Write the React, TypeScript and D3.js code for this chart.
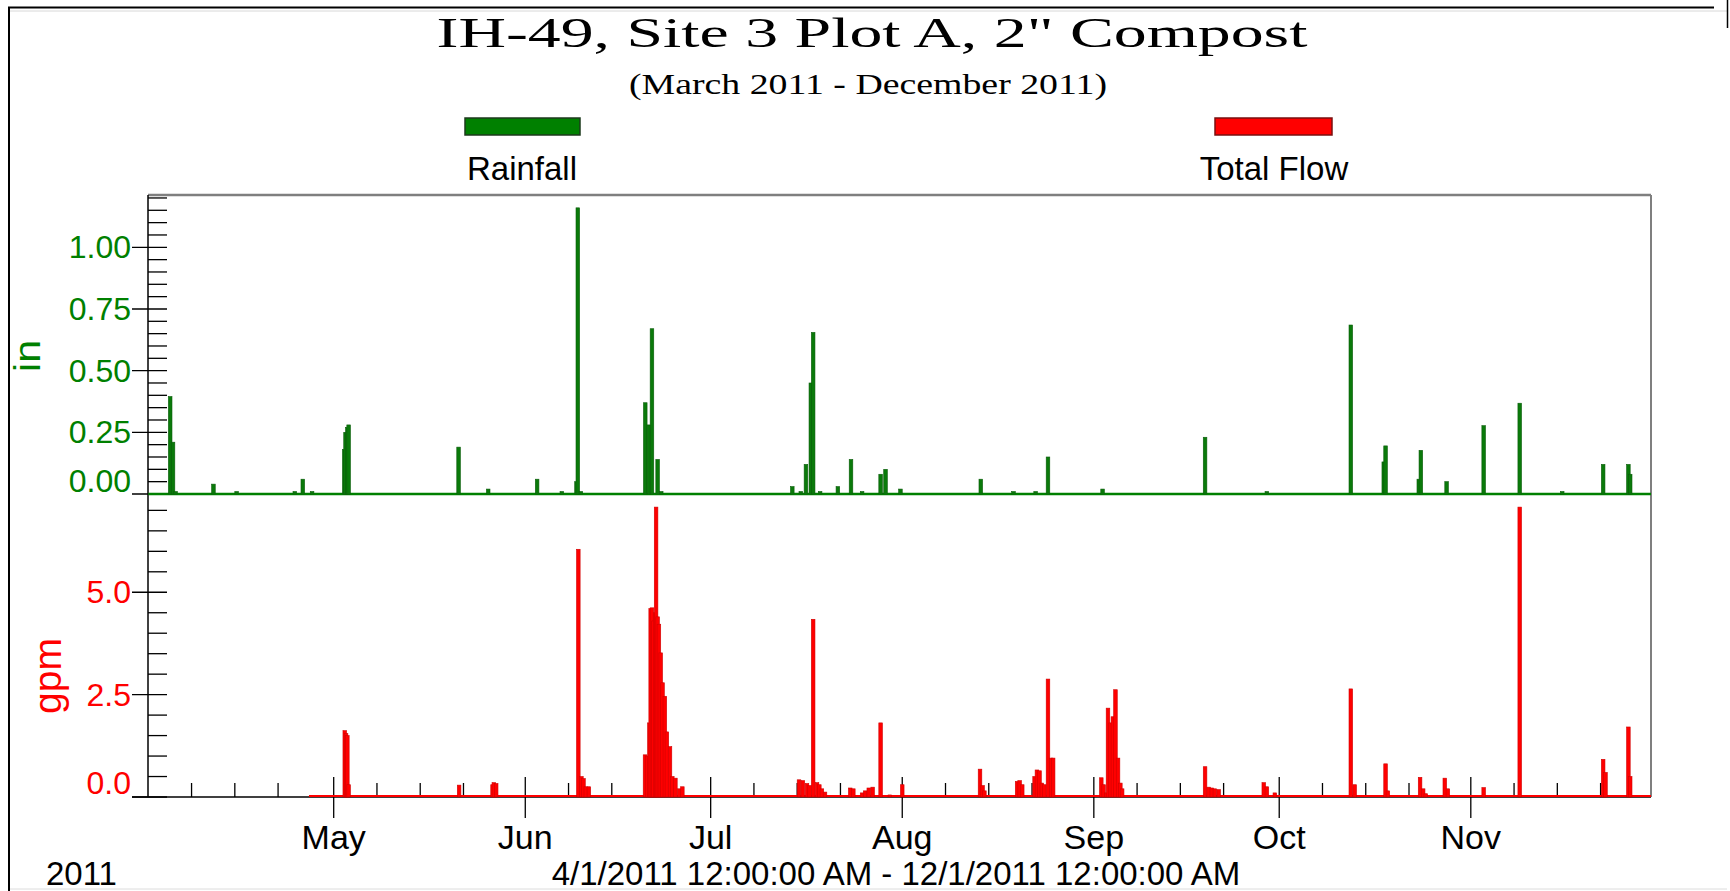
import React, { useEffect } from "react";
import * as d3 from "d3";

// ---------- DATA ----------
const rainDates = [
  "2011-04-04 13:00", "2011-04-05 00:00", "2011-04-05 10:00", "2011-04-11 13:00", "2011-04-15 07:00",
  "2011-04-24 17:00", "2011-04-26 00:00", "2011-04-27 12:00",
  "2011-05-02 17:00", "2011-05-02 22:00", "2011-05-03 05:00", "2011-05-03 10:00",
  "2011-05-21 05:00", "2011-05-26 00:00", "2011-06-02 22:00", "2011-06-06 22:00",
  "2011-06-09 07:00", "2011-06-09 12:00", "2011-06-10 00:00",
  "2011-06-20 10:00", "2011-06-21 00:00", "2011-06-21 12:00", "2011-06-22 10:00", "2011-06-23 00:00",
  "2011-07-14 05:00", "2011-07-15 14:00", "2011-07-16 10:00", "2011-07-17 05:00", "2011-07-17 14:00", "2011-07-18 17:00",
  "2011-07-21 14:00", "2011-07-23 17:00", "2011-07-25 12:00", "2011-07-28 12:00", "2011-07-29 07:00", "2011-07-31 17:00",
  "2011-08-13 17:00", "2011-08-19 00:00", "2011-08-22 14:00", "2011-08-24 14:00",
  "2011-09-02 10:00", "2011-09-19 00:00", "2011-09-29 00:00",
  "2011-10-12 14:00", "2011-10-17 22:00", "2011-10-18 05:00", "2011-10-23 14:00", "2011-10-23 22:00", "2011-10-28 02:00",
  "2011-11-03 02:00", "2011-11-08 22:00", "2011-11-15 19:00", "2011-11-22 10:00", "2011-11-26 12:00", "2011-11-26 19:00",
];
const rainValues = [
  0.395, 0.21, 0.01, 0.04, 0.01,
  0.01, 0.06, 0.01,
  0.18, 0.25, 0.27, 0.28,
  0.19, 0.02, 0.06, 0.01,
  0.05, 1.16, 0.01,
  0.37, 0.28, 0.67, 0.14, 0.01,
  0.03, 0.01, 0.12, 0.45, 0.655, 0.01,
  0.03, 0.14, 0.01, 0.08, 0.1, 0.02,
  0.06, 0.01, 0.01, 0.15,
  0.02, 0.23, 0.01,
  0.685, 0.13, 0.195, 0.06, 0.177, 0.05,
  0.277, 0.368, 0.01, 0.12, 0.12, 0.08,
];

const flowDates = [
  "2011-04-27 00:00",
  "2011-05-02 19:00", "2011-05-03 00:00", "2011-05-03 05:00", "2011-05-03 10:00",
  "2011-05-21 07:00", "2011-05-26 17:00", "2011-05-26 22:00", "2011-05-27 07:00",
  "2011-06-09 14:00", "2011-06-10 02:00", "2011-06-10 10:00", "2011-06-10 19:00", "2011-06-11 07:00",
  "2011-06-20 09:00", "2011-06-20 17:00", "2011-06-21 02:00", "2011-06-21 07:00", "2011-06-21 12:00",
  "2011-06-21 18:00", "2011-06-22 00:00", "2011-06-22 04:00", "2011-06-22 10:00", "2011-06-22 15:00",
  "2011-06-22 22:00", "2011-06-23 05:00", "2011-06-23 14:00", "2011-06-23 22:00", "2011-06-24 10:00",
  "2011-06-24 19:00", "2011-06-25 07:00", "2011-06-25 22:00", "2011-06-26 10:00",
  "2011-07-15 07:00", "2011-07-15 22:00", "2011-07-16 14:00", "2011-07-17 00:00", "2011-07-17 14:00",
  "2011-07-18 05:00", "2011-07-18 14:00", "2011-07-19 00:00", "2011-07-19 12:00",
  "2011-07-23 14:00", "2011-07-24 02:00", "2011-07-25 12:00", "2011-07-26 00:00", "2011-07-26 14:00",
  "2011-07-27 05:00", "2011-07-28 12:00", "2011-07-30 00:00", "2011-08-01 00:00",
  "2011-08-13 14:00", "2011-08-14 00:00", "2011-08-14 07:00",
  "2011-08-19 14:00", "2011-08-20 00:00", "2011-08-20 10:00",
  "2011-08-22 10:00", "2011-08-22 19:00", "2011-08-23 05:00", "2011-08-23 14:00", "2011-08-24 00:00",
  "2011-08-24 14:00", "2011-08-25 02:00", "2011-08-25 10:00",
  "2011-09-02 05:00", "2011-09-02 14:00", "2011-09-03 00:00", "2011-09-03 07:00", "2011-09-03 17:00",
  "2011-09-04 02:00", "2011-09-04 12:00", "2011-09-04 22:00", "2011-09-05 07:00", "2011-09-05 14:00",
  "2011-09-19 00:00", "2011-09-19 14:00", "2011-09-20 02:00", "2011-09-20 14:00", "2011-09-21 05:00",
  "2011-09-28 12:00", "2011-09-29 00:00", "2011-09-30 07:00",
  "2011-10-12 14:00", "2011-10-13 05:00", "2011-10-18 05:00", "2011-10-18 14:00",
  "2011-10-23 19:00", "2011-10-24 07:00", "2011-10-24 17:00", "2011-10-27 19:00", "2011-10-28 07:00",
  "2011-11-03 02:00", "2011-11-08 22:00", "2011-11-22 10:00", "2011-11-22 19:00",
  "2011-11-26 12:00", "2011-11-26 19:00",
  "2011-12-01 00:00",
];
const flowValues = [
  0,
  1.62, 1.55, 1.5, 0.3,
  0.29, 0.3, 0.35, 0.33,
  6.05, 0.5, 0.45, 0.25, 0.25,
  1.03, 1.0, 1.81, 4.6, 4.62,
  4.3, 4.5, 7.08, 4.4, 4.22,
  3.52, 2.79, 2.46, 1.59, 1.23,
  0.5, 0.46, 0.2, 0.25,
  0.42, 0.4, 0.33, 0.28, 4.34,
  0.35, 0.3, 0.2, 0.12,
  0.22, 0.2, 0.1, 0.15, 0.22,
  0.24, 1.81, 0.05, 0.3,
  0.68, 0.28, 0.15,
  0.38, 0.4, 0.3,
  0.5, 0.66, 0.64, 0.34, 0.3,
  2.88, 0.95, 0.95,
  0.47, 0.3, 0.1, 2.17, 1.81,
  1.96, 2.62, 0.95, 0.34, 0.2,
  0.74, 0.24, 0.22, 0.2, 0.18,
  0.35, 0.25, 0.1,
  2.64, 0.3, 0.81, 0.15,
  0.48, 0.2, 0.08, 0.46, 0.2,
  0.23, 7.08, 0.92, 0.6,
  1.71, 0.5,
  0,
];

const monthTickDates = ["2011-05-01 00:00", "2011-06-01 00:00", "2011-07-01 00:00", "2011-08-01 00:00", "2011-09-01 00:00", "2011-10-01 00:00", "2011-11-01 00:00"];
const monthLabels = ["May", "Jun", "Jul", "Aug", "Sep", "Oct", "Nov"];
const weekTickDays = [8, 15, 22];
const rainTicks = [0, 0.25, 0.5, 0.75, 1.0];
const rainTickLabels = ["0.00", "0.25", "0.50", "0.75", "1.00"];
const flowTicks = [0, 2.5, 5.0];
const flowTickLabels = ["0.0", "2.5", "5.0"];

const titleText = "IH-49, Site 3 Plot A, 2\" Compost";
const subtitleText = "(March 2011 - December 2011)";
const rangeText = "4/1/2011 12:00:00 AM - 12/1/2011 12:00:00 AM";

// ---------- LAYOUT ----------
const W = 1730;
const H = 891;
const L = 148;
const R = 1651;
const T = 195;
const MID = 494;
const B = 797;
const SANS = "'Liberation Sans', Arial, Helvetica, sans-serif";
const SERIF = "'Liberation Serif', 'Times New Roman', serif";
const GREEN = "#008000";
const RED = "#ff0000";

export default function App() {
  useEffect(() => {
    document.body.style.margin = "0";
  }, []);

  const parse = d3.timeParse("%Y-%m-%d %H:%M");
  const x = d3
    .scaleTime()
    .domain([new Date(2011, 3, 1), new Date(2011, 11, 1)])
    .range([148.3, 1656.2]);
  const yRain = d3.scaleLinear().domain([0, 1.212]).range([MID, T]);
  const yFlow = d3.scaleLinear().domain([0, 7.4]).range([B, MID]);

  const rain = rainDates.map((d, i) => ({ t: parse(d) as Date, v: rainValues[i] }));
  const flow = flowDates.map((d, i) => ({ t: parse(d) as Date, v: flowValues[i] }));

  const rainMinor = d3
    .range(1, 25)
    .map((i) => i * 0.05)
    .filter((v) => Math.abs(v / 0.25 - Math.round(v / 0.25)) > 1e-6);
  const flowMinor = d3
    .range(1, 15)
    .map((i) => i * 0.5)
    .filter((v) => Math.abs(v / 2.5 - Math.round(v / 2.5)) > 1e-6);

  const xMinor: Date[] = [];
  for (let m = 3; m <= 10; m++) for (const dd of weekTickDays) xMinor.push(new Date(2011, m, dd));
  const xMajor = monthTickDates.map((d) => parse(d) as Date);

  const flowStart = x(d3.min(flow, (d) => d.t) as Date);
  const barW = 3.6;

  return (
    <div style={{ position: "absolute", left: 0, top: 0 }}>
      <svg width={W} height={H} style={{ display: "block", background: "#fff" }}>
        <defs>
          <clipPath id="plotClip">
            <rect x={L} y={T} width={R - L} height={B - T + 2} />
          </clipPath>
        </defs>

        {/* outer frame */}
        <line x1={8} y1={7.5} x2={1714} y2={7.5} stroke="#000" strokeWidth={2} />
        <line x1={9} y1={7} x2={9} y2={H} stroke="#000" strokeWidth={2} />
        <line x1={10} y1={11} x2={1727} y2={11} stroke="#d8d8d8" strokeWidth={1} />
        <line x1={1727.5} y1={0} x2={1727.5} y2={28} stroke="#000" strokeWidth={1.5} />
        <line x1={10} y1={889} x2={1727} y2={889} stroke="#dcdcdc" strokeWidth={1} />

        {/* titles */}
        <text x={872} y={47} textAnchor="middle" fontFamily={SERIF} fontSize={42} textLength={871} lengthAdjust="spacingAndGlyphs" fill="#000">
          {titleText}
        </text>
        <text x={868} y={94} textAnchor="middle" fontFamily={SERIF} fontSize={30} textLength={478} lengthAdjust="spacingAndGlyphs" fill="#000">
          {subtitleText}
        </text>

        {/* legend */}
        <rect x={465} y={118} width={115} height={17} fill={GREEN} stroke="#1c3a1c" strokeWidth={1.5} />
        <rect x={1215} y={118} width={117} height={17} fill={RED} stroke="#7a1010" strokeWidth={1.5} />
        <text x={522} y={180} textAnchor="middle" fontFamily={SANS} fontSize={33} fill="#000">Rainfall</text>
        <text x={1274} y={180} textAnchor="middle" fontFamily={SANS} fontSize={33} fill="#000">Total Flow</text>

        {/* plot frame */}
        <line x1={L} y1={T} x2={R} y2={T} stroke="#7f7f7f" strokeWidth={2.5} />
        <line x1={R} y1={T} x2={R} y2={B} stroke="#7f7f7f" strokeWidth={2} />
        <line x1={L} y1={T} x2={L} y2={B} stroke="#000" strokeWidth={1.5} />

        {/* rainfall y axis */}
        {rainMinor.map((v, i) => (
          <line key={"rm" + i} x1={L} x2={L + 19} y1={yRain(v)} y2={yRain(v)} stroke="#000" strokeWidth={1.3} />
        ))}
        {rainTicks.map((v, i) => (
          <g key={"rt" + i}>
            <line x1={132} x2={L + 19} y1={yRain(v)} y2={yRain(v)} stroke="#000" strokeWidth={1.3} />
            <text
              x={131}
              y={(i === 0 ? yRain(v) - 13 : yRain(v)) + 11}
              textAnchor="end"
              fontFamily={SANS}
              fontSize={32}
              fill={GREEN}
            >
              {rainTickLabels[i]}
            </text>
          </g>
        ))}

        {/* flow y axis */}
        {flowMinor.map((v, i) => (
          <line key={"fm" + i} x1={L} x2={L + 19} y1={yFlow(v)} y2={yFlow(v)} stroke="#000" strokeWidth={1.3} />
        ))}
        {flowTicks.map((v, i) => (
          <g key={"ft" + i}>
            <line x1={132} x2={L + 19} y1={yFlow(v)} y2={yFlow(v)} stroke="#000" strokeWidth={1.3} />
            <text
              x={131}
              y={(i === 0 ? yFlow(v) - 14 : yFlow(v)) + 11}
              textAnchor="end"
              fontFamily={SANS}
              fontSize={32}
              fill={RED}
            >
              {flowTickLabels[i]}
            </text>
          </g>
        ))}

        {/* axis titles */}
        <text transform="translate(40,356) rotate(-90)" textAnchor="middle" fontFamily={SANS} fontSize={36} textLength={32} lengthAdjust="spacingAndGlyphs" fill={GREEN}>
          in
        </text>
        <text transform="translate(61,676) rotate(-90)" textAnchor="middle" fontFamily={SANS} fontSize={38} textLength={76} lengthAdjust="spacingAndGlyphs" fill={RED}>
          gpm
        </text>

        {/* x axis */}
        <line x1={132} x2={R} y1={B} y2={B} stroke="#000" strokeWidth={1.5} />
        {xMinor.map((d, i) => (
          <line key={"xm" + i} x1={x(d)} x2={x(d)} y1={B - 14} y2={B} stroke="#000" strokeWidth={1.3} />
        ))}
        {xMajor.map((d, i) => (
          <g key={"xM" + i}>
            <line x1={x(d)} x2={x(d)} y1={B - 20} y2={818} stroke="#000" strokeWidth={1.3} />
            <text x={x(d)} y={849} textAnchor="middle" fontFamily={SANS} fontSize={34} fill="#000">
              {monthLabels[i]}
            </text>
          </g>
        ))}
        <text x={46} y={885} fontFamily={SANS} fontSize={33} fill="#000">2011</text>
        <text x={896} y={885} textAnchor="middle" fontFamily={SANS} fontSize={33} fill="#000">{rangeText}</text>

        {/* data */}
        <g clipPath="url(#plotClip)">
          <line x1={x(new Date(2011, 3, 1))} x2={R} y1={yRain(0)} y2={yRain(0)} stroke={GREEN} strokeWidth={2.5} />
          {rain.map((d, i) => (
            <rect
              key={"r" + i}
              x={x(d.t) - barW / 2}
              width={barW}
              y={yRain(d.v)}
              height={Math.max(0, yRain(0) - yRain(d.v))}
              fill="#0a7a0a"
              stroke="#0b5c0b"
              strokeWidth={0.6}
            />
          ))}
          <line x1={flowStart} x2={R} y1={yFlow(0) - 1} y2={yFlow(0) - 1} stroke={RED} strokeWidth={2.2} />
          {flow.map((d, i) => (
            <rect
              key={"f" + i}
              x={x(d.t) - barW / 2}
              width={barW}
              y={yFlow(d.v)}
              height={Math.max(0, yFlow(0) - yFlow(d.v))}
              fill={RED}
              stroke="#d00000"
              strokeWidth={0.6}
            />
          ))}
        </g>
      </svg>
    </div>
  );
}
